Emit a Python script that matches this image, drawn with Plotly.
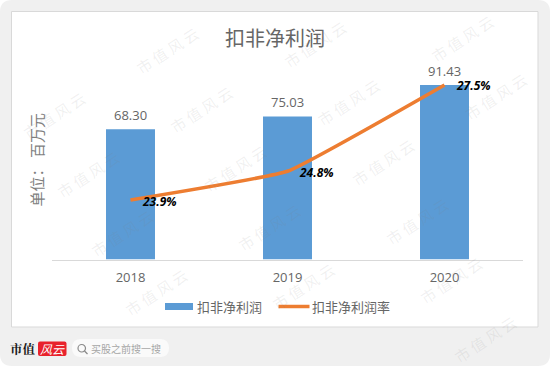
import plotly.graph_objects as go

years = ["2018", "2019", "2020"]
profit = [68.30, 75.03, 91.43]
margin_pct = [23.9, 24.8, 27.5]
profit_labels = ["68.30", "75.03", "91.43"]
margin_labels = ["23.9%", "24.8%", "27.5%"]
title_text = "扣非净利润"
yaxis_text = "单位： 百万元"
watermark = "市 值 风 云"

W, H = 550, 366
BLUE, ORANGE, GREY = "#5B9BD5", "#ED7D31", "#666666"
CJK = "Noto Sans CJK SC"
NUM = "Open Sans"


def px(x):
    return x / W


def py(y):
    return 1 - y / H


def rrect(x0, y0, x1, y1, r):
    return (f"M{px(x0)},{py(y0 + r)} Q{px(x0)},{py(y0)} {px(x0 + r)},{py(y0)} "
            f"L{px(x1 - r)},{py(y0)} Q{px(x1)},{py(y0)} {px(x1)},{py(y0 + r)} "
            f"L{px(x1)},{py(y1 - r)} Q{px(x1)},{py(y1)} {px(x1 - r)},{py(y1)} "
            f"L{px(x0 + r)},{py(y1)} Q{px(x0)},{py(y1)} {px(x0)},{py(y1 - r)} Z")


fig = go.Figure()
fig.add_bar(x=years, y=profit, name="扣非净利润", width=0.312,
            marker=dict(color=BLUE, line=dict(width=0)), showlegend=False)
fig.add_scatter(x=years, y=margin_pct, name="扣非净利润率", yaxis="y2", mode="lines",
                line=dict(color=ORANGE, width=3.6, shape="spline", smoothing=0.3),
                showlegend=False)

shapes = [
    dict(type="path", path=rrect(0, 0, 550, 366, 12), xref="paper", yref="paper",
         fillcolor="#F0F0F0", line=dict(width=0), layer="below"),
    dict(type="rect", x0=px(11.5), x1=px(538), y0=py(327), y1=py(11.5), xref="paper", yref="paper",
         fillcolor="white", line=dict(color="#D9D9D9", width=1), layer="below"),
    # legend swatches
    dict(type="rect", x0=px(165), x1=px(193), y0=py(310), y1=py(303), xref="paper", yref="paper",
         fillcolor=BLUE, line=dict(width=0)),
    dict(type="line", x0=px(278.5), x1=px(309.5), y0=py(306.5), y1=py(306.5), xref="paper", yref="paper",
         line=dict(color=ORANGE, width=3.5)),
    # footer pill and magnifier
    dict(type="path", path=rrect(72, 339, 169, 357, 9), xref="paper", yref="paper",
         fillcolor="#FAFAFA", line=dict(width=0), layer="below"),
    dict(type="circle", x0=px(78), x1=px(85.5), y0=py(352), y1=py(344.5), xref="paper", yref="paper",
         line=dict(color="#8A8A8A", width=1.2)),
    dict(type="line", x0=px(84.5), x1=px(87.5), y0=py(351), y1=py(354), xref="paper", yref="paper",
         line=dict(color="#8A8A8A", width=1.2)),
    # footer logo plate
    dict(type="path", path=rrect(38, 341.5, 66.5, 356, 2), xref="paper", yref="paper",
         fillcolor="#E8222C", line=dict(width=0), layer="below"),
]

ann = []


def label(x, y, text, size, color=GREY, family=CJK, **kw):
    ann.append(dict(x=px(x), y=py(y), xref="paper", yref="paper", text=text, showarrow=False,
                    xanchor="center", yanchor="middle",
                    font=dict(family=family, size=size, color=color), **kw))


label(275, 37, title_text, 20)
label(229.5, 306, "扣非净利润", 13)
label(351, 306, "扣非净利润率", 13)
label(23, 348.5, "<b>市值</b>", 12.5, color="#1A1A1A", family="Noto Serif CJK SC, Noto Sans CJK SC")
label(52, 348.5, "<i>风云</i>", 12, color="white")
label(126, 348, "买股之前搜一搜", 10, color="#A6A6A6")

for idx, (val, txt) in enumerate(zip(profit, profit_labels)):
    ann.append(dict(x=idx, y=val, xref="x", yref="y", text=txt, showarrow=False,
                    xanchor="center", yanchor="middle", yshift=14,
                    font=dict(family=NUM, size=13, color=GREY)))

for idx, (val, txt) in enumerate(zip(margin_pct, margin_labels)):
    ann.append(dict(x=idx, y=val, xref="x", yref="y2", text=f"<b><i>{txt}</i></b>", showarrow=False,
                    xanchor="center", yanchor="middle",
                    xshift=29, yshift=-1, font=dict(family=NUM, size=12, color="black")))

# faint repeated watermark (only copies that fit inside the picture)
for i in range(-2, 5):
    for j in range(-1, 6):
        cx = 167 + i * 147.5 + j * 34
        cy = 50 - i * 6 + j * 59
        if 38 < cx < 512 and 26 < cy < 342:
            label(cx, cy, watermark, 15, color="rgba(130,130,130,0.12)", textangle=-33)

fig.update_layout(
    width=W, height=H, autosize=False,
    margin=dict(l=0, r=0, t=0, b=0),
    paper_bgcolor="white", plot_bgcolor="rgba(0,0,0,0)",
    showlegend=False, shapes=shapes, annotations=ann,
    font=dict(family=CJK, color=GREY),
    xaxis=dict(type="category", domain=[px(52), px(523)], range=[-0.5, 2.5],
               showline=True, linecolor="#D9D9D9", linewidth=1, showgrid=False, ticks="",
               tickfont=dict(family=NUM, size=13, color=GREY), ticklabelstandoff=6),
    yaxis=dict(domain=[py(259.5), py(60)], range=[0, 104.6], showgrid=False, zeroline=False,
               showticklabels=False, ticks="",
               title=dict(text=yaxis_text, font=dict(family=CJK, size=15, color="#7F7F7F"), standoff=3)),
    yaxis2=dict(domain=[py(259.5), py(60)], range=[22.04, 28.28], overlaying="y", side="right",
                showgrid=False, zeroline=False, showticklabels=False, ticks=""),
)
fig.write_html("out.html", config=dict(displayModeBar=False),
               post_script="document.body.style.margin='0';document.body.style.overflow='hidden';")
